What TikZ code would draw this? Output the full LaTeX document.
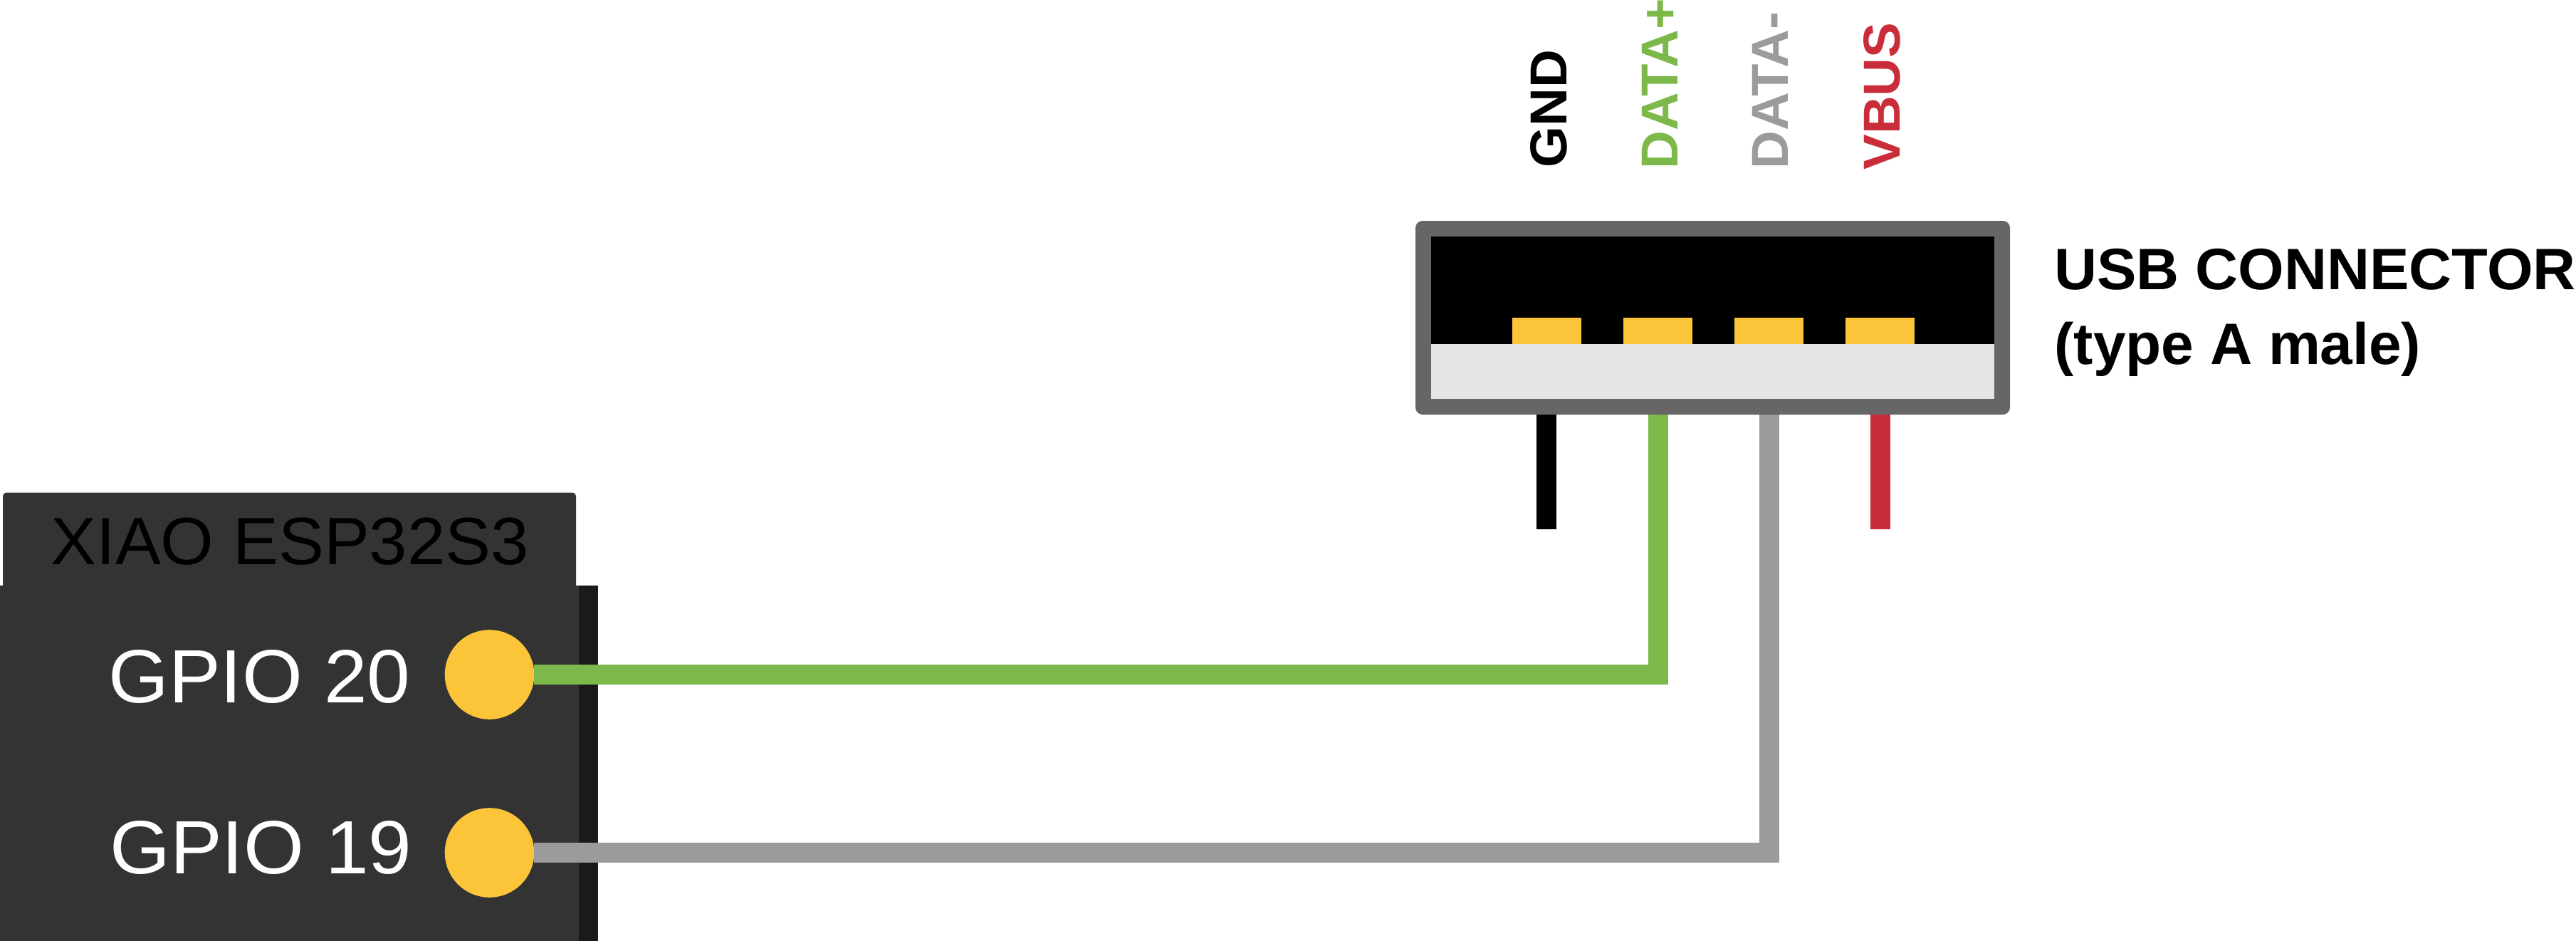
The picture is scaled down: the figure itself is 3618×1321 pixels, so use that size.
\documentclass[tikz,border=0pt]{standalone}
\usepackage{fontspec}
\setmainfont{Liberation Sans}
\newfontfamily\gpiofont[FakeStretch=1.028]{Liberation Sans}
\newfontfamily\boardfont[FakeStretch=1.02]{Liberation Sans}
\newfontfamily\usbfont[FakeStretch=1.013,BoldFont={Liberation Sans Bold}]{Liberation Sans}
\newfontfamily\pinfont[FakeStretch=1.02,BoldFont={Liberation Sans Bold}]{Liberation Sans}
\definecolor{wgreen}{HTML}{7DB84A}
\definecolor{wgray}{HTML}{9B9B9B}
\definecolor{wred}{HTML}{C92D39}
\definecolor{pingold}{HTML}{FCC438}
\definecolor{boardc}{HTML}{333333}
\definecolor{stripc}{HTML}{1A1A1A}
\definecolor{framec}{HTML}{666666}
\definecolor{lightc}{HTML}{E5E5E5}
\tikzset{
  block/.style={inner sep=0pt,outer sep=0pt,draw=none,anchor=north west},
  padpin/.style={circle,inner sep=0pt,outer sep=0pt,minimum size=62.8pt,fill=pingold},
  wire/.style={line width=14pt,line join=miter,line cap=butt},
  gpiotext/.style={inner sep=0pt,anchor=base west,text=white,font=\gpiofont\fontsize{53}{60}\selectfont},
  boardtext/.style={inner sep=0pt,anchor=base west,text=black,font=\boardfont\fontsize{47}{54}\selectfont},
  usbtext/.style={inner sep=0pt,anchor=base west,text=black,font=\bfseries\fontsize{41}{48}\selectfont},
  pinlabel/.style={inner sep=0pt,rotate=90,anchor=base west,font=\pinfont\bfseries\fontsize{36.5}{42}\selectfont}
}
\begin{document}
\begin{tikzpicture}[x=0.5pt,y=-0.5pt]
\useasboundingbox (0,0) rectangle (3618,1321);
% board
\node[block,fill=boardc,rounded corners=2.5pt,minimum width=402.5pt,minimum height=80pt] (tab) at (4,691.5) {};
\node[block,fill=stripc,minimum width=420.2pt,minimum height=249.5pt] (strip) at (0,822) {};
\node[block,fill=boardc,minimum width=406.5pt,minimum height=249.5pt] (board) at (0,822) {};
\node[boardtext] (title) at (71,792.5) {XIAO ESP32S3};
\node[gpiotext] (g20) at (152,986) {GPIO 20};
\node[gpiotext] (g19) at (154,1226.5) {GPIO 19};
\node[padpin] (pin20) at (687.5,947) {};
\node[padpin] (pin19) at (687.5,1197) {};
% USB connector
\node[block,fill=framec,rounded corners=5pt,minimum width=417.5pt,minimum height=136pt] (usb) at (1988,310) {};
\node[block,fill=black,minimum width=395.2pt,minimum height=75.5pt] (well) at (2010.3,332) {};
\node[block,fill=lightc,minimum width=395.2pt,minimum height=38.5pt] (tongue) at (2010.3,483) {};
\node[block,fill=pingold,minimum width=48.5pt,minimum height=18.5pt] (c1) at (2124,446) {};
\node[block,fill=pingold,minimum width=48.5pt,minimum height=18.5pt] (c2) at (2280,446) {};
\node[block,fill=pingold,minimum width=48.5pt,minimum height=18.5pt] (c3) at (2436,446) {};
\node[block,fill=pingold,minimum width=48.5pt,minimum height=18.5pt] (c4) at (2592,446) {};
% wire anchors
\coordinate (gndtop) at (2172,582);
\coordinate (gndend) at (2172,743);
\coordinate (vbustop) at (2641,582);
\coordinate (vbusend) at (2641,743);
\coordinate (dptop) at (2329,582);
\coordinate (dmtop) at (2485,582);
\draw[wire,draw=black] (gndtop) -- (gndend);
\draw[wire,draw=wred] (vbustop) -- (vbusend);
\draw[wire,draw=wgreen] (pin20.east) -| (dptop);
\draw[wire,draw=wgray] (pin19.east) -| (dmtop);
% labels
\node[pinlabel,text=black] (lgnd) at (2200,236) {GND};
\node[pinlabel,text=wgreen] (ldp) at (2356.4,238) {DATA+};
\node[pinlabel,text=wgray] (ldm) at (2511.4,238) {DATA-};
\node[pinlabel,text=wred] (lvb) at (2668.7,239) {VBUS};
\node[usbtext,font=\usbfont\bfseries\fontsize{41}{48}\selectfont] (u1) at (2885,406.7) {USB CONNECTOR};
\node[usbtext] (u2) at (2885,511.7) {(type A male)};
\end{tikzpicture}
\end{document}
